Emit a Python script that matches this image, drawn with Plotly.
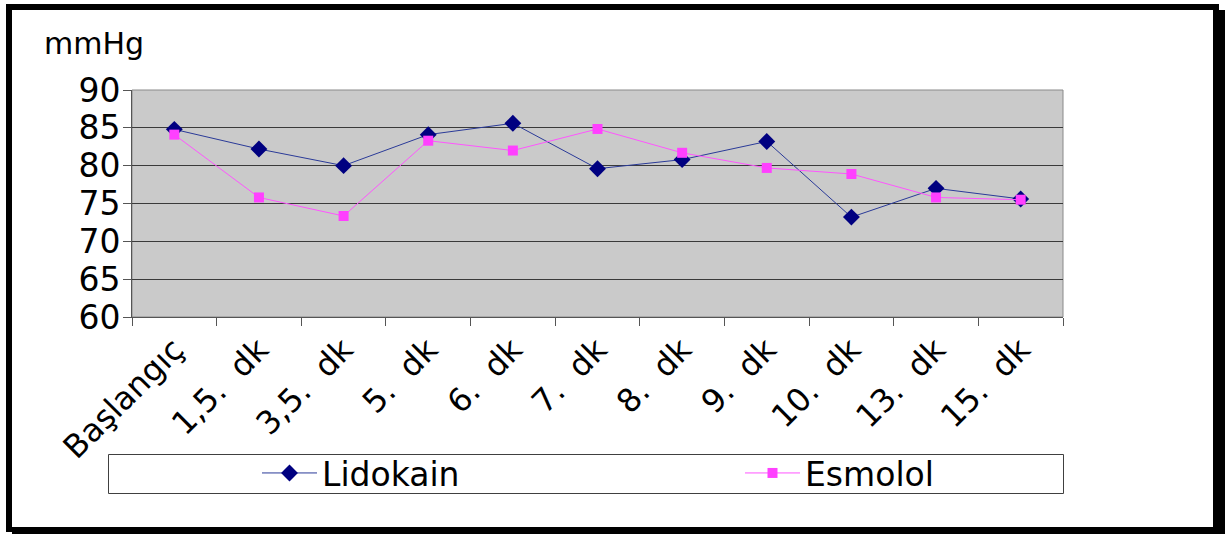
import plotly.graph_objects as go

# Ölçüm zamanları ve ortalama arter basıncı (mmHg)
zaman = ["Başlangıç", "1,5.  dk", "3,5.  dk", "5.  dk", "6.  dk", "7.  dk",
         "8.  dk", "9.  dk", "10.  dk", "13.  dk", "15.  dk"]
lidokain = [84.8, 82.2, 80.0, 84.1, 85.6, 79.6, 80.8, 83.2, 73.2, 77.0, 75.6]
esmolol = [84.1, 75.8, 73.35, 83.3, 82.0, 84.85, 81.7, 79.7, 78.9, 75.8, 75.5]
y_ticks = [60, 65, 70, 75, 80, 85, 90]

W, H = 1225, 534
L, R, T, B = 132, 1063, 90, 317   # plot area in pixels
FONT = "DejaVu Sans"


def px_x(px):
    return (px - L) / (R - L)


def px_y(py):
    return (B - py) / (B - T)


fig = go.Figure()
fig.add_trace(go.Scatter(
    x=zaman, y=lidokain, name="Lidokain", mode="lines+markers", legend="legend",
    line=dict(color="#2a3a98", width=1),
    marker=dict(symbol="diamond", size=13, color="#000080"),
))
fig.add_trace(go.Scatter(
    x=zaman, y=esmolol, name="Esmolol", mode="lines+markers", legend="legend2",
    line=dict(color="#ff55ff", width=1),
    marker=dict(symbol="square", size=10, color="#ff40ff"),
))

shapes = []
# legend frame
shapes.append(dict(type="rect", xref="paper", yref="paper",
                   x0=px_x(108.5), x1=px_x(1063.5), y0=px_y(493.5), y1=px_y(454.5),
                   line=dict(color="#404040", width=1), fillcolor="white", layer="below"))
# outer black frame with drop shadow
for x0, y0, x1, y1 in [(6, 4, 1219, 10), (6, 4, 12, 532), (1213, 10, 1225, 534), (12, 527, 1225, 534)]:
    shapes.append(dict(type="rect", xref="paper", yref="paper",
                       x0=px_x(x0), x1=px_x(x1), y0=px_y(y1), y1=px_y(y0),
                       line=dict(width=0), fillcolor="black", layer="above"))
# plot area border (top/right)
shapes.append(dict(type="rect", xref="paper", yref="paper", x0=0, x1=1, y0=0, y1=1,
                   line=dict(color="#8a8a8a", width=1), layer="below"))

legend_common = dict(orientation="h", xanchor="left", yanchor="middle", y=px_y(473),
                     font=dict(size=33, family=FONT, color="black"),
                     bgcolor="rgba(0,0,0,0)", borderwidth=0, itemwidth=55)

fig.update_layout(
    width=W, height=H,
    margin=dict(l=L, r=W - R, t=T, b=H - B, pad=0),
    paper_bgcolor="white", plot_bgcolor="#cacaca",
    font=dict(family=FONT, color="black"),
    shapes=shapes,
    showlegend=True,
    legend=dict(x=px_x(257), **legend_common),
    legend2=dict(x=px_x(740), **legend_common),
    annotations=[dict(text="mmHg", xref="paper", yref="paper", x=px_x(42), y=px_y(44),
                      xanchor="left", yanchor="middle", showarrow=False,
                      font=dict(size=30, family=FONT, color="black"))],
)

fig.update_xaxes(
    type="category", categoryorder="array", categoryarray=zaman,
    tickmode="array", tickvals=zaman, ticktext=[s.replace("  ", " \u00a0") for s in zaman],
    range=[-0.5, len(zaman) - 0.5],
    tickson="boundaries", ticks="outside", ticklen=8, tickcolor="#555", tickwidth=1,
    showline=True, linecolor="#555", linewidth=1, mirror=False,
    showgrid=False, tickangle=-45, tickfont=dict(size=32, family=FONT, color="black"),
)
fig.update_yaxes(
    range=[60, 90], tickmode="array", tickvals=y_ticks,
    ticks="outside", ticklen=8, tickcolor="#555", tickwidth=1, ticklabelstandoff=-4,
    showline=True, linecolor="#555", linewidth=1,
    showgrid=True, gridcolor="#3a3a3a", gridwidth=1, zeroline=False,
    tickfont=dict(size=33, family=FONT, color="black"),
)

fig.write_html("out.html")
